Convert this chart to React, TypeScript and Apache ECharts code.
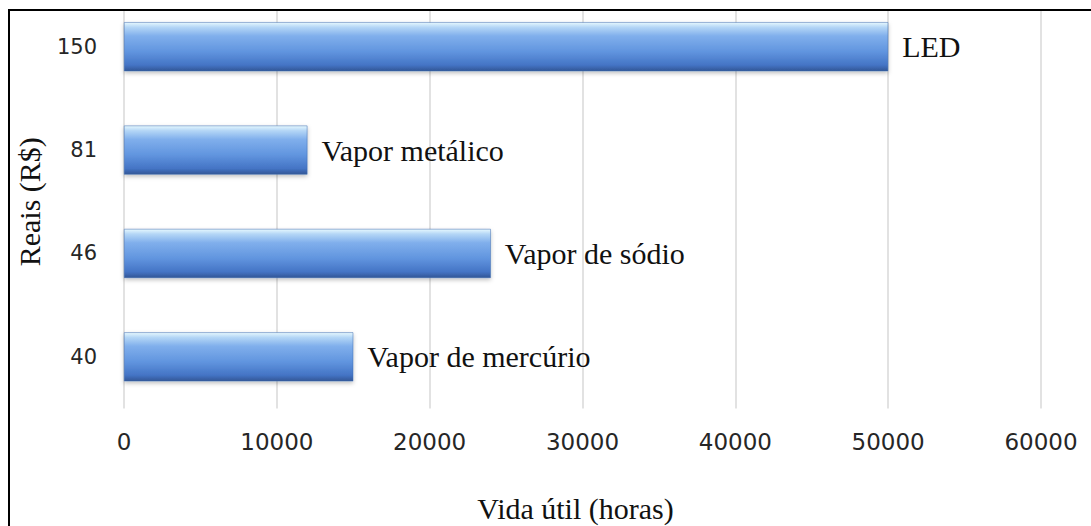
import React, { useEffect, useRef } from "react";
import * as echarts from "echarts";

const categories = ["40", "46", "81", "150"];
const lifeHours = [15000, 24000, 12000, 50000];
const lampNames = ["Vapor de mercúrio", "Vapor de sódio", "Vapor metálico", "LED"];
const xTicks = [0, 10000, 20000, 30000, 40000, 50000, 60000];

export default function App() {
  const ref = useRef<HTMLDivElement>(null);
  useEffect(() => {
    if (!ref.current) return;
    const chart = echarts.init(ref.current, null, { renderer: "svg" });
    const barColor = new echarts.graphic.LinearGradient(0, 0, 0, 1, [
      { offset: 0, color: "#e6f8fe" },
      { offset: 0.1, color: "#b4d6f6" },
      { offset: 0.28, color: "#80afec" },
      { offset: 0.6, color: "#6195df" },
      { offset: 0.88, color: "#4474c5" },
      { offset: 1, color: "#325696" },
    ]);
    chart.setOption({
      animation: false,
      backgroundColor: "#ffffff",
      grid: {
        left: 124,
        width: 917,
        top: -5,
        height: 413.5,
        containLabel: false,
        outerBoundsMode: "none",
      },
      xAxis: {
        type: "value",
        min: xTicks[0],
        max: xTicks[xTicks.length - 1],
        interval: 10000,
        axisLine: { show: false },
        axisTick: { show: false },
        splitLine: { show: true, lineStyle: { color: "#d9d9d9", width: 1.5 } },
        axisLabel: {
          margin: 22,
          fontFamily: "DejaVu Sans",
          fontSize: 23,
          color: "#262626",
          formatter: (v: number) => String(v),
        },
        name: "Vida útil (horas)",
        nameLocation: "middle",
        nameGap: 84,
        nameTextStyle: {
          fontFamily: "Liberation Serif",
          fontSize: 30,
          lineHeight: 32,
          color: "#111",
          padding: [0, 14, 0, 0],
        },
      },
      yAxis: {
        type: "category",
        data: categories,
        axisLine: { show: false },
        axisTick: { show: false },
        axisLabel: {
          margin: 27,
          fontFamily: "DejaVu Sans",
          fontSize: 21,
          color: "#262626",
        },
        name: "Reais (R$)",
        nameLocation: "middle",
        nameGap: 80,
        nameRotate: 90,
        nameTextStyle: { fontFamily: "Liberation Serif", fontSize: 30, color: "#111" },
      },
      series: [
        {
          type: "bar",
          data: lifeHours.map((v, i) => ({ value: v, name: lampNames[i] })),
          barWidth: 49,
          itemStyle: {
            color: barColor,
            borderColor: "#3f6cb0",
            borderWidth: 0.5,
            shadowColor: "rgba(0,0,0,0.25)",
            shadowBlur: 4,
            shadowOffsetY: 2,
          },
          label: {
            show: true,
            position: "right",
            distance: 14,
            formatter: (p: any) => lampNames[p.dataIndex],
            fontFamily: "Liberation Serif",
            fontSize: 30,
            color: "#111",
          },
        },
      ],
      graphic: [
        { type: "rect", shape: { x: 0, y: 0, width: 1091, height: 9 }, style: { fill: "#fff" }, z: 100 },
        { type: "rect", shape: { x: 0, y: 0, width: 8, height: 526 }, style: { fill: "#fff" }, z: 100 },
        { type: "line", shape: { x1: 8, y1: 10, x2: 1091, y2: 10 }, style: { stroke: "#000", lineWidth: 2 }, z: 101 },
        { type: "line", shape: { x1: 9, y1: 9, x2: 9, y2: 526 }, style: { stroke: "#000", lineWidth: 2 }, z: 101 },
      ],
    });
    return () => chart.dispose();
  }, []);
  return (
    <div
      ref={ref}
      style={{ position: "fixed", left: 0, top: 0, width: 1091, height: 526, background: "#fff" }}
    />
  );
}
